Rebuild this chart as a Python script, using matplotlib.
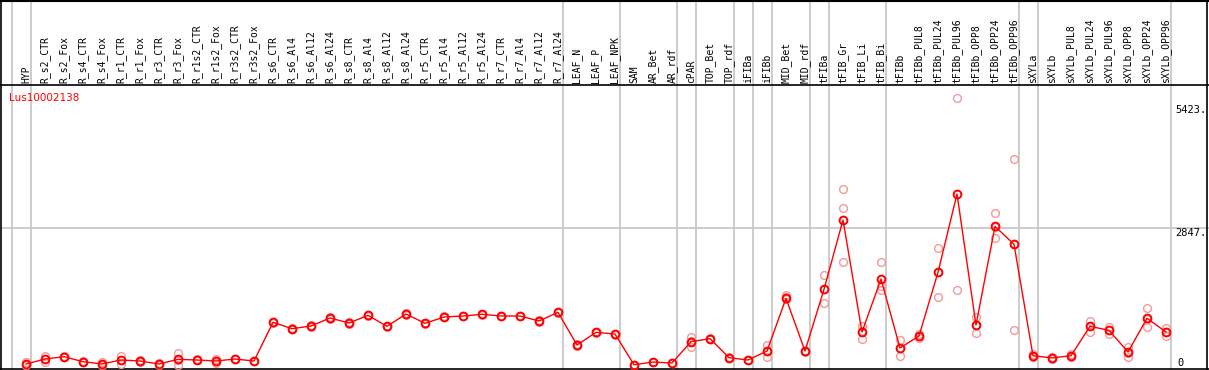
import numpy as np
import matplotlib
matplotlib.use('Agg')
import matplotlib.pyplot as plt

# sample names (columns)
samples = ['HYP', 'R_s2_CTR', 'R_s2_Fox', 'R_s4_CTR', 'R_s4_Fox', 'R_r1_CTR', 'R_r1_Fox',
           'R_r3_CTR', 'R_r3_Fox', 'R_r1s2_CTR', 'R_r1s2_Fox', 'R_r3s2_CTR', 'R_r3s2_Fox',
           'R_s6_CTR', 'R_s6_Al4', 'R_s6_Al12', 'R_s6_Al24', 'R_s8_CTR', 'R_s8_Al4', 'R_s8_Al12',
           'R_s8_Al24', 'R_r5_CTR', 'R_r5_Al4', 'R_r5_Al12', 'R_r5_Al24', 'R_r7_CTR', 'R_r7_Al4',
           'R_r7_Al12', 'R_r7_Al24', 'LEAF_N', 'LEAF_P', 'LEAF_NPK', 'SAM', 'AR_Bet', 'AR_rdf',
           'cPAR', 'TOP_Bet', 'TOP_rdf', 'iFIBa', 'iFIBb', 'MID_Bet', 'MID_rdf', 'tFIBa',
           'tFIB_Gr', 'tFIB_Li', 'tFIB_Bi', 'tFIBb', 'tFIBb_PUL8', 'tFIBb_PUL24', 'tFIBb_PUL96',
           'tFIBb_OPP8', 'tFIBb_OPP24', 'tFIBb_OPP96', 'sXYLa', 'sXYLb', 'sXYLb_PUL8',
           'sXYLb_PUL24', 'sXYLb_PUL96', 'sXYLb_OPP8', 'sXYLb_OPP24', 'sXYLb_OPP96']

# mean expression
means = [20, 125, 173, 69, 21, 104, 83, 21, 118, 104, 83, 125, 83,
         889, 756, 812, 979, 874, 1034, 805, 1062, 868, 999, 1020, 1055, 1020, 1020, 916, 1097,
         416, 680, 645, 5, 62, 42,
         486, 548, 153, 104, 291, 1388, 291,
         1576, 3019, 687, 1790,
         354, 604, 1930, 3560, 833, 2887, 2513,
         194, 146, 194, 805, 722, 271, 972, 687]

# replicates
rep1 = [60, 187, 190, 80, 69, 187, 100, 40, 243, 115, 125, 135, 90,
        900, 770, 825, 995, 890, 1045, 820, 1075, 880, 1010, 1030, 1065, 1030, 1030, 930, 1110,
        430, 690, 655, 10, 70, 50,
        576, 555, 160, 110, 416, 1457, 300,
        1867, 3658, 812, 2144,
        520, 650, 2436, 5559, 1006, 3158, 4283,
        230, 170, 220, 923, 790, 382, 1180, 770]
rep2 = [0, 69, 160, 60, 0, 21, 70, 10, 0, 95, 40, 115, 75,
        875, 745, 800, 965, 860, 1020, 790, 1050, 855, 990, 1010, 1045, 1010, 1010, 905, 1085,
        405, 670, 635, 0, 55, 35,
        382, 540, 145, 95, 173, 1420, 280,
        1284, 3262, 535, 1650,
        187, 560, 1416, 1561, 660, 2638, 729,
        160, 125, 170, 687, 655, 173, 784, 600]
rep3 = [0, 120, 170, 67, 0, 104, 80, 15, 110, 102, 85, 125, 85,
        892, 753, 811, 977, 872, 1037, 805, 1061, 869, 997, 1020, 1055, 1020, 1020, 913, 1096,
        413, 680, 645, 5, 61, 41,
        500, 549, 154, 107, 284, 1380, 293,
        1577, 2144, 714, 1561,
        355, 602, 1938, 3560, 833, 2866, 2527,
        192, 143, 192, 805, 721, 258, 952, 691]

# group separators (after these columns)
group_ends = [-1, 0, 28, 31, 34, 35, 37, 38, 39, 41, 42, 45, 52, 53, 60]

gene = 'Lus10002138'
ymax_lab = 5423
ymid_lab = 2847

# pixel -> data helpers (figure is 1209x370, column step 19 px)
def px_x(p):
    return (p - 26) / 19.0

def px_y(p):
    return (365 - p) * 20.82

fig = plt.figure(figsize=(12.09, 3.70), dpi=100)
ax = fig.add_axes([0, 0, 1, 1])
ax.set_xlim(px_x(0), px_x(1209))
ax.set_ylim(px_y(370), px_y(0))
ax.axis('off')

x = np.arange(len(samples))

# grid lines
for g in group_ends:
    ax.axvline(g + 0.25, color='#c8c8c8', lw=1.3, zorder=1)
ax.axhline(ymid_lab, color='#c8c8c8', lw=1.3, zorder=1)

# frame + header line
ax.axhline(px_y(85.3), color='black', lw=1.2, zorder=2)
ax.axhline(px_y(0.5), color='black', lw=1.5, zorder=2)
ax.axhline(px_y(369), color='black', lw=1.2, zorder=2)
ax.axvline(px_x(1.5), color='black', lw=1.2, zorder=2)
ax.axvline(px_x(1207), color='black', lw=1.2, zorder=2)

# replicate circles
for r in [rep1, rep2, rep3]:
    ax.plot(x, r, ls='none', marker='o', ms=5.6, mfc='none', mec='#f09a9a', mew=1.0, zorder=3)

# mean line
ax.plot(x, means, color='red', lw=1.0, marker='o', ms=5.6, mfc='none', mec='red', mew=1.4, zorder=4)

# sample labels
for i, s in enumerate(samples):
    ax.text(i, px_y(83), s, rotation=90, ha='center', va='bottom',
            family='DejaVu Sans Mono', fontsize=7, color='black')

ax.text(px_x(9), px_y(98), gene, ha='left', va='center', fontsize=7.5, color='red')

ax.text(px_x(1207), ymax_lab, '%d.' % ymax_lab, ha='right', va='top',
        family='DejaVu Sans Mono', fontsize=7.5)
ax.text(px_x(1207), ymid_lab, '%d.' % ymid_lab, ha='right', va='top',
        family='DejaVu Sans Mono', fontsize=7.5)
ax.text(px_x(1181), px_y(366), '0', ha='center', va='baseline',
        family='DejaVu Sans Mono', fontsize=7.5)

plt.savefig('out.png', dpi=100)
